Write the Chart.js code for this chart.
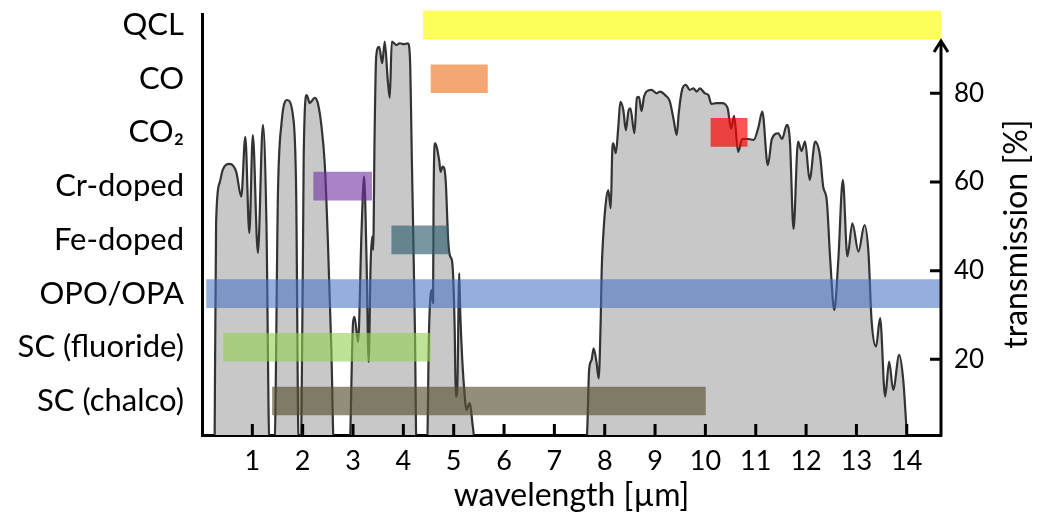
<!DOCTYPE html>
<html>
<head>
<meta charset="utf-8">
<title>Atmospheric transmission and mid-IR sources</title>
<script src="https://cdn.jsdelivr.net/npm/chart.js@4"></script>
<style>
  body { margin: 0; background: #fff; }
</style>
</head>
<body>
<canvas id="chart" width="1037" height="518"></canvas>
<script>
// laser source categories and their wavelength ranges (µm)
const sources = ['QCL', 'CO', 'CO₂', 'Cr-doped', 'Fe-doped', 'OPO/OPA', 'SC (fluoride)', 'SC (chalco)'];
const rangeStart = [4.4, 4.55, 10.11, 2.22, 3.77, 0.09, 0.43, 1.40];
const rangeEnd = [14.68, 5.67, 10.83, 3.37, 4.89, 14.68, 4.54, 10.0];

// atmospheric transmission curve
const wavelength = [
  0.25, 0.28, 0.35, 0.41, 0.55, 0.68, 0.78, 0.86, 0.94, 1.01, 1.11, 1.21, 1.28, 1.34,
  1.44, 1.51, 1.58, 1.69, 1.81, 1.87, 1.92,
  1.97, 2.02, 2.08, 2.14, 2.24, 2.30, 2.37, 2.44, 2.50, 2.57, 2.62,
  2.93, 3.00, 3.03, 3.10, 3.17, 3.22, 3.27, 3.31, 3.35, 3.38, 3.40, 3.43, 3.46, 3.52, 3.58, 3.63, 3.69, 3.73, 3.77, 3.86, 3.93, 4.01, 4.09, 4.13, 4.17, 4.23, 4.26,
  4.47, 4.51, 4.56, 4.59, 4.60, 4.63, 4.71, 4.74, 4.78, 4.84, 4.89, 4.93, 4.97, 5.02, 5.04, 5.07, 5.11, 5.13, 5.17, 5.22, 5.25, 5.32, 5.38, 5.44,
  7.61, 7.65, 7.69, 7.74, 7.78, 7.84, 7.88, 7.92, 7.94, 7.97,
  8.02, 8.07, 8.12, 8.15, 8.17, 8.22, 8.27, 8.31, 8.37, 8.42,
  8.47, 8.51, 8.59, 8.64, 8.68, 8.73, 8.78, 8.83, 8.93, 9.03,
  9.10, 9.20, 9.29, 9.37, 9.43, 9.47, 9.53, 9.61, 9.69, 9.76,
  9.83, 9.89, 9.99, 10.06, 10.12, 10.22, 10.33, 10.44, 10.51, 10.57,
  10.65, 10.73, 10.85, 10.96, 11.05, 11.13, 11.24, 11.32, 11.45, 11.52,
  11.62, 11.68, 11.75, 11.84, 11.91, 11.98, 12.07, 12.18, 12.28, 12.34,
  12.41, 12.48, 12.56, 12.64, 12.73, 12.82, 12.92, 13.04, 13.16, 13.24,
  13.30, 13.39, 13.47, 13.57, 13.65, 13.73, 13.85, 13.93, 14.00, 14.02
];
const transmission = [
  0, 50.8, 59.8, 62.7, 64.1, 62.3, 56.7, 70.2, 48.5, 70.6, 44.0, 72.9, 50.8, 0,
  0, 58.2, 73.3, 78.5, 74.7, 58.2, 0,
  0, 65.7, 79.6, 77.8, 79.0, 77.8, 72.9, 63.8, 46.9, 22.1, 0,
  0, 28.2, 29.6, 23.9, 49.2, 61.2, 41.7, 19.4, 41.7, 47.7, 44.7, 71.7, 88.3, 90.5, 86.8, 91.7, 83.0, 79.0, 91.7, 90.9, 91.3, 91.1, 91.3, 88.3, 64.2, 26.6, 0,
  0, 26.6, 35.6, 32.7, 55.9, 68.7, 65.0, 62.3, 63.5, 60.5, 46.9, 43.2, 42.0, 26.6, 11.6, 13.1, 39.4, 30.5, 19.9, 11.6, 8.6, 10.1, 4.8, 0,
  0, 3.4, 17.6, 19.9, 22.5, 19.1, 15.7, 28.9, 40.2, 47.7,
  55.2, 58.2, 54.1, 67.2, 68.7, 66.5, 72.5, 78.1, 76.2, 71.7,
  75.9, 76.6, 71.0, 79.0, 79.2, 76.0, 79.2, 80.4, 80.8, 80.0,
  80.4, 79.6, 78.3, 74.0, 70.6, 75.5, 80.5, 81.9, 80.8, 81.1,
  80.4, 81.1, 80.0, 79.6, 77.6, 77.8, 77.8, 76.7, 72.0, 74.9,
  66.8, 69.7, 69.7, 69.5, 72.2, 75.9, 63.8, 69.7, 71.0, 69.7,
  72.9, 69.0, 49.4, 69.1, 67.0, 69.1, 60.5, 69.1, 65.7, 58.9,
  55.9, 42.4, 31.1, 42.4, 60.5, 43.2, 50.7, 44.3, 50.3, 43.9,
  28.9, 22.9, 29.3, 11.6, 19.5, 13.1, 21.0, 15.3, 3.4, 0
];

const xTicks = [1, 2, 3, 4, 5, 6, 7, 8, 9, 10, 11, 12, 13, 14];
const transTicks = [20, 40, 60, 80];

const barColors = [
  'rgba(255,255,0,0.65)',
  'rgba(237,125,49,0.68)',
  'rgba(255,0,0,0.68)',
  'rgba(112,48,160,0.6)',
  'rgba(49,96,110,0.65)',
  'rgba(68,114,196,0.57)',
  'rgba(146,208,80,0.6)',
  'rgba(89,82,51,0.65)'
];

const FONT = 'Lato';

// inward tick marks, the right axis arrow and the right-hand title
const decor = {
  id: 'decor',
  afterDraw(chart) {
    const { ctx, chartArea: a, scales } = chart;
    ctx.save();
    ctx.strokeStyle = '#000';
    ctx.lineWidth = 3;
    ctx.beginPath();
    xTicks.forEach(v => {
      const px = scales.x.getPixelForValue(v);
      ctx.moveTo(px, a.bottom);
      ctx.lineTo(px, a.bottom - 11);
    });
    transTicks.forEach(v => {
      const py = scales.yT.getPixelForValue(v);
      ctx.moveTo(a.right, py);
      ctx.lineTo(a.right - 11, py);
    });
    ctx.moveTo(a.right, a.bottom + 1.5);
    ctx.lineTo(a.right, 41);
    ctx.stroke();
    ctx.beginPath();
    ctx.moveTo(a.right - 7, 52);
    ctx.lineTo(a.right, 41);
    ctx.lineTo(a.right + 7, 52);
    ctx.stroke();

    ctx.fillStyle = '#000';
    ctx.font = '32px ' + FONT;
    ctx.textAlign = 'center';
    ctx.textBaseline = 'middle';
    ctx.translate(1017, 234);
    ctx.rotate(-Math.PI / 2);
    ctx.fillText('transmission [%]', 0, 0);
    ctx.restore();
  }
};

// fixed axis sizes so the plot area sits where it does in the figure
function fixSize(prop, size) {
  return s => {
    s[prop] = size;
    s.paddingTop = 0;
    s.paddingBottom = 0;
    s.paddingLeft = 0;
    s.paddingRight = 0;
  };
}

new Chart(document.getElementById('chart'), {
  type: 'bar',
  data: {
    datasets: [
      {
        type: 'bar',
        indexAxis: 'y',
        xAxisID: 'x',
        yAxisID: 'yCat',
        data: sources.map((s, i) => ({ y: i, x: [rangeStart[i], rangeEnd[i]] })),
        backgroundColor: barColors,
        borderWidth: 0,
        barThickness: 28,
        clip: false,
        order: 0
      },
      {
        type: 'line',
        xAxisID: 'x',
        yAxisID: 'yT',
        data: wavelength.map((w, i) => ({ x: w, y: transmission[i] })),
        borderColor: '#333',
        borderWidth: 2.2,
        backgroundColor: '#c8c8c8',
        fill: 'origin',
        pointRadius: 0,
        cubicInterpolationMode: 'monotone',
        order: 1
      }
    ]
  },
  options: {
    responsive: false,
    animation: false,
    devicePixelRatio: 1,
    layout: { padding: { top: 14, left: 0, right: 0, bottom: 0 } },
    plugins: { legend: { display: false }, tooltip: { enabled: false } },
    scales: {
      x: {
        type: 'linear',
        position: 'bottom',
        offset: false,
        min: 0,
        max: 14.68,
        grid: { display: false, drawTicks: false, offset: false },
        border: { display: true, color: '#000', width: 3 },
        afterBuildTicks: s => { s.ticks = xTicks.map(v => ({ value: v })); },
        ticks: { color: '#000', font: { family: FONT, size: 27 }, padding: 10, maxRotation: 0 },
        title: { display: true, text: 'wavelength [µm]', color: '#000', font: { family: FONT, size: 32 }, padding: { top: 0, bottom: 3 } },
        afterFit: fixSize('height', 83)
      },
      yCat: {
        type: 'linear',
        position: 'left',
        offset: false,
        reverse: true,
        min: -0.205,
        max: 7.633,
        grid: { display: false, drawTicks: false, offset: false },
        border: { display: true, color: '#000', width: 3 },
        afterBuildTicks: s => { s.ticks = sources.map((c, i) => ({ value: i })); },
        ticks: {
          color: '#000',
          font: { family: FONT, size: 31 },
          padding: 18,
          autoSkip: false,
          callback: v => sources[v]
        },
        afterFit: fixSize('width', 202)
      },
      yT: {
        type: 'linear',
        position: 'right',
        offset: false,
        min: 2.93,
        max: 97.9,
        grid: { display: false, drawTicks: false, offset: false },
        border: { display: false },
        afterBuildTicks: s => { s.ticks = transTicks.map(v => ({ value: v })); },
        ticks: { color: '#000', font: { family: FONT, size: 26 }, padding: 13 },
        afterFit: fixSize('width', 96)
      }
    }
  },
  plugins: [decor]
});
</script>
</body>
</html>
